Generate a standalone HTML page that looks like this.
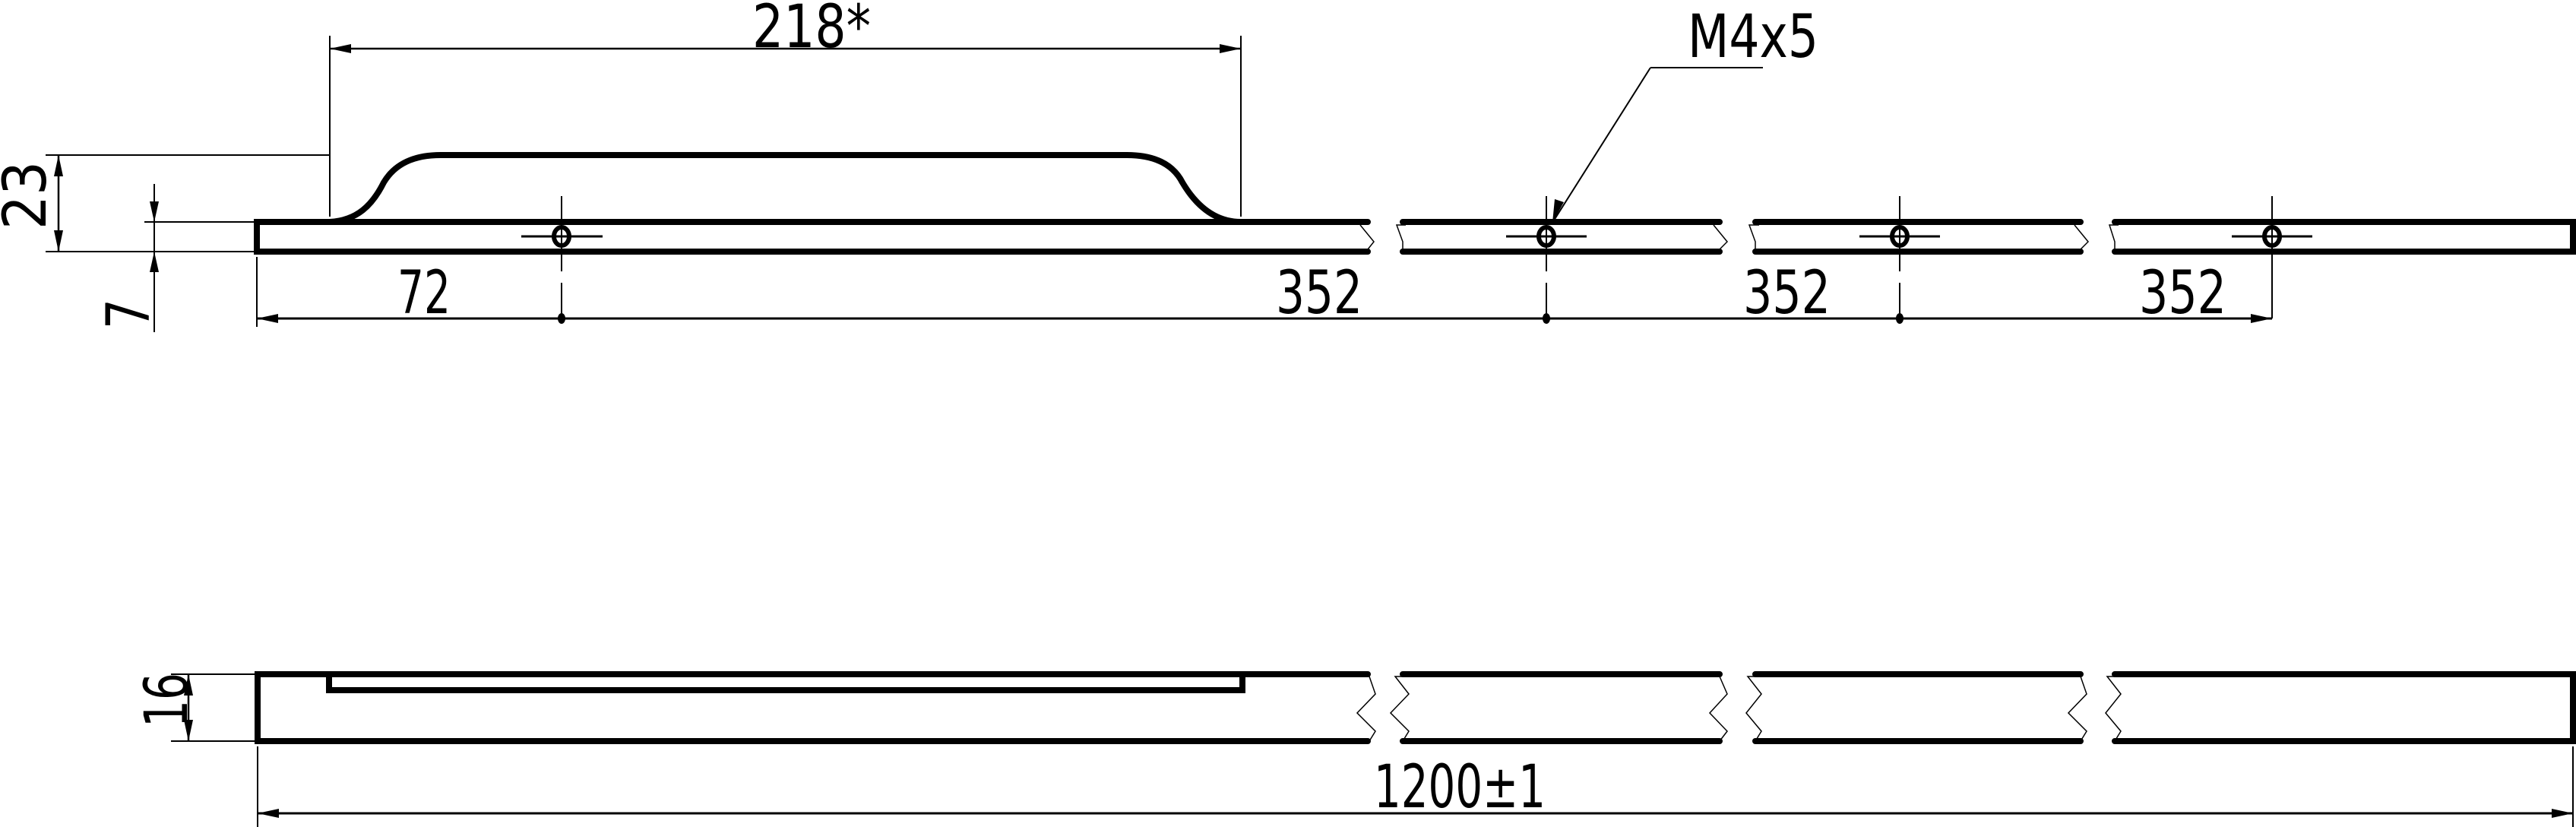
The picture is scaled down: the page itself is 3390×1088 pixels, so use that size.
<!DOCTYPE html>
<html><head><meta charset="utf-8"><style>
html,body{margin:0;padding:0;background:#fff;}
svg{display:block}
text{font-family:"DejaVu Sans","Liberation Sans",sans-serif;fill:#000}
</style></head><body>
<svg width="3390" height="1088" viewBox="0 0 3390 1088" xmlns="http://www.w3.org/2000/svg">
<g fill="none" stroke="#000" stroke-linecap="round">
<path d="M1800,292 H338 V331 H1800" stroke-width="8"/>
<path d="M1846,292 H2263 M1846,331 H2263 M2310,292 H2738 M2310,331 H2738" stroke-width="8"/>
<path d="M2783,292 H3386 V331 H2783" stroke-width="8"/>
<path d="M434,292 C470,290 490,270 505,240 C520,215 545,204 580,204 H1483 C1518,204 1543,215 1556,240 C1575,272 1600,292 1633,292" stroke-width="8"/>
<g stroke-width="1.5" stroke-linecap="butt">
<path d="M1790,296 L1808,318 L1800,328"/><path d="M1850,296 L1838,296 L1846,318 L1846,328"/>
<path d="M2255,296 L2273,318 L2263,328"/><path d="M2315,296 L2302,296 L2310,318 L2310,328"/>
<path d="M2730,296 L2748,318 L2738,328"/><path d="M2788,296 L2776,296 L2783,318 L2783,328"/>
</g>
<g stroke-width="6">
<ellipse cx="739" cy="311" rx="10" ry="12"/><ellipse cx="2035" cy="311" rx="10" ry="12"/>
<ellipse cx="2500" cy="311" rx="10" ry="12"/><ellipse cx="2990" cy="311" rx="10" ry="12"/>
</g>
<g stroke-width="3" stroke-linecap="butt">
<path d="M686,311 H793 M1982,311 H2088 M2447,311 H2553 M2937,311 H3043"/>
</g>
<g stroke-width="2" stroke-linecap="butt">
<path d="M739,258 V357 M739,372 V419 M2035,258 V357 M2035,372 V419 M2500,258 V357 M2500,372 V419 M2990,258 V419"/>
<path d="M434,47 V285 M1633,47 V285"/>
<path d="M434,64 H1633" stroke-width="2.5"/>
<path d="M60,204 H434 M60,331 H335 M190,292 H335"/>
<path d="M77,204 V331" stroke-width="2.5"/>
<path d="M203,242 V437" stroke-width="2"/>
<path d="M338,338 V430"/>
<path d="M338,419 H2990" stroke-width="3"/>
<path d="M2172,89 H2320 M2172,89 L2043,293" stroke-width="2"/>
<path d="M225,887 H339 M225,975 H339"/>
<path d="M248,887 V975" stroke-width="2.5"/>
<path d="M339,982 V1088 M3386,982 V1088"/>
<path d="M339,1070 H3386" stroke-width="3"/>
</g>
<g fill="#000" stroke="none">
<path d="M434,64 L462,58 L462,70 Z"/><path d="M1633,64 L1605,58 L1605,70 Z"/>
<path d="M77,204 L71,232 L83,232 Z"/><path d="M77,331 L71,303 L83,303 Z"/>
<path d="M203,292 L197,265 L209,265 Z"/><path d="M203,331 L197,358 L209,358 Z"/>
<path d="M338,419 L366,413 L366,425 Z"/><path d="M2990,419 L2962,413 L2962,425 Z"/>
<ellipse cx="739" cy="419" rx="5" ry="7"/><ellipse cx="2035" cy="419" rx="5" ry="7"/><ellipse cx="2500" cy="419" rx="5" ry="7"/>
<path d="M2043,293 L2046,262 L2058,266 Z"/>
<path d="M248,887 L242,915 L254,915 Z"/><path d="M248,975 L242,947 L254,947 Z"/>
<path d="M339,1070 L367,1064 L367,1076 Z"/><path d="M3386,1070 L3358,1064 L3358,1076 Z"/>
</g>
<g fill="none" stroke="#000" stroke-linecap="round" stroke-width="8">
<path d="M1800,887 H339 V975 H1800"/>
<path d="M1846,887 H2263 M1846,975 H2263 M2310,887 H2738 M2310,975 H2738"/>
<path d="M2783,887 H3386 V975 H2783"/>
<path d="M433,887 V908 H1635 V887"/>
</g>
<g fill="none" stroke="#000" stroke-width="1.5">
<path d="M1802,890 L1810,913 L1786,938 L1810,962 L1802,975"/><path d="M1846,890 L1836,890 L1854,913 L1830,938 L1854,962 L1846,975"/>
<path d="M2263,890 L2273,913 L2250,938 L2273,962 L2263,975"/><path d="M2310,890 L2300,890 L2318,913 L2298,938 L2318,962 L2310,975"/>
<path d="M2738,890 L2746,913 L2722,938 L2746,962 L2738,975"/><path d="M2783,890 L2773,890 L2791,913 L2771,938 L2791,962 L2783,975"/>
</g>
</g>
<g font-size="78">
<text x="990" y="62" textLength="156" lengthAdjust="spacingAndGlyphs">218*</text>
<text x="2221" y="75" textLength="172" lengthAdjust="spacingAndGlyphs">M4x5</text>
<text x="523" y="412" textLength="70" lengthAdjust="spacingAndGlyphs">72</text>
<text x="1679" y="412" textLength="114" lengthAdjust="spacingAndGlyphs">352</text>
<text x="2294" y="412" textLength="115" lengthAdjust="spacingAndGlyphs">352</text>
<text x="2815" y="412" textLength="115" lengthAdjust="spacingAndGlyphs">352</text>
<text x="1808" y="1062" textLength="226" lengthAdjust="spacingAndGlyphs">1200±1</text>
<text transform="translate(60,302) rotate(-90)" textLength="90" lengthAdjust="spacingAndGlyphs">23</text>
<text transform="translate(196,433) rotate(-90)" textLength="40" lengthAdjust="spacingAndGlyphs">7</text>
<text transform="translate(246,957) rotate(-90)" textLength="72" lengthAdjust="spacingAndGlyphs">16</text>
</g>
</svg>
</body></html>
